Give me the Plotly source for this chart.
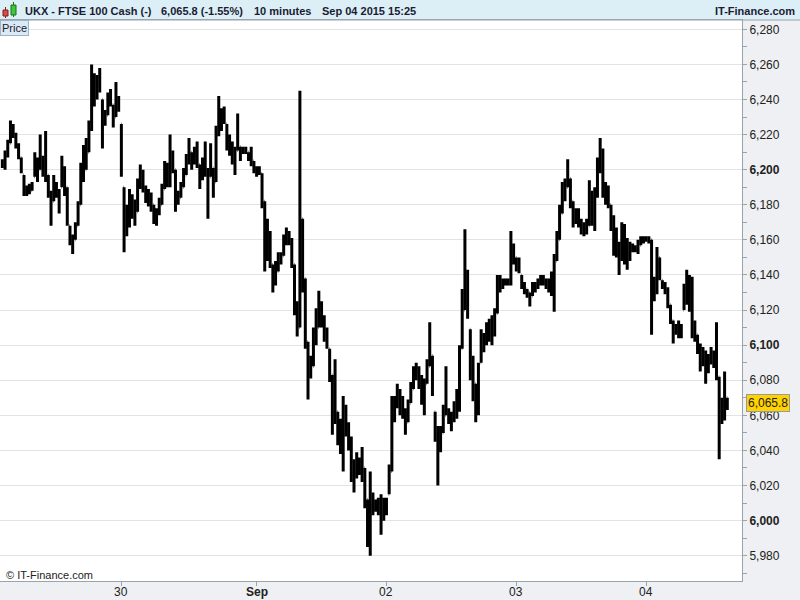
import numpy as np
import pandas as pd
import plotly.graph_objects as go

# ---------------- data ----------------
symbol_text = "UKX - FTSE 100 Cash (-)"
last_text = "6,065.8 (-1.55%)"
interval_text = "10 minutes"
stamp_text = "Sep 04 2015 15:25"
brand_text = "IT-Finance.com"
copyright_text = "© IT-Finance.com"
last_price = 6065.8

fri_start = "2015-08-28 00:00"
week_start = "2015-08-30 23:00"
bar_freq = "30min"
weekend_break = ["2015-08-28 22:00", "2015-08-30 23:00"]

fri_high = [6206, 6211, 6217, 6228, 6226, 6221, 6215, 6207, 6197, 6191,
            6192, 6193, 6210, 6207, 6220, 6208, 6222, 6197, 6188, 6197,
            6193, 6189, 6208, 6202, 6190, 6168, 6163, 6170, 6182, 6204,
            6214, 6218, 6228, 6260, 6255, 6254, 6258, 6240, 6234, 6244,
            6246, 6237, 6250, 6242]
fri_low = [6201, 6200, 6207, 6215, 6218, 6212, 6206, 6198, 6185, 6185,
           6186, 6188, 6196, 6193, 6200, 6196, 6193, 6184, 6168, 6182,
           6184, 6175, 6190, 6185, 6168, 6157, 6152, 6160, 6168, 6180,
           6193, 6200, 6210, 6222, 6236, 6240, 6244, 6212, 6225, 6231,
           6236, 6224, 6230, 6233]
fri_close = [6204, 6209, 6214, 6222, 6220, 6214, 6208, 6201, 6188, 6189,
             6188, 6191, 6202, 6199, 6206, 6200, 6198, 6187, 6180, 6190,
             6187, 6180, 6200, 6192, 6172, 6160, 6156, 6166, 6178, 6196,
             6200, 6210, 6225, 6250, 6242, 6250, 6247, 6228, 6230, 6240,
             6240, 6228, 6240, 6236]

wk_high = [6226, 6190, 6180, 6189, 6186, 6183, 6195, 6203, 6200, 6191,
           6189, 6187, 6180, 6178, 6184, 6192, 6205, 6204, 6220, 6211,
           6200, 6188, 6193, 6201, 6209, 6218, 6210, 6213, 6216, 6203,
           6207, 6216, 6201, 6215, 6201, 6225, 6242, 6235, 6236, 6226,
           6220, 6216, 6213, 6232, 6213, 6213, 6213, 6210, 6213, 6205,
           6202, 6202, 6198, 6182, 6172, 6165, 6146, 6148, 6153, 6153,
           6163, 6167, 6165, 6161, 6146, 6125, 6245, 6172, 6138, 6102,
           6094, 6110, 6121, 6131, 6125, 6117, 6110, 6098, 6083, 6092,
           6062, 6058, 6071, 6066, 6056, 6048, 6035, 6039, 6036, 6042,
           6030, 6012, 6028, 6016, 6012, 6013, 6015, 6013, 6013, 6032,
           6071, 6071, 6078, 6075, 6071, 6064, 6069, 6079, 6088, 6090,
           6088, 6083, 6081, 6092, 6113, 6094, 6062, 6054, 6054, 6066,
           6088, 6064, 6062, 6068, 6075, 6100, 6132, 6166, 6143, 6109,
           6094, 6078, 6090, 6109, 6107, 6113, 6115, 6117, 6121, 6140,
           6140, 6138, 6138, 6138, 6165, 6158, 6150, 6150, 6140, 6136,
           6132, 6130, 6136, 6136, 6138, 6140, 6140, 6138, 6138, 6142,
           6152, 6165, 6180, 6193, 6195, 6206, 6195, 6182, 6178, 6178,
           6172, 6170, 6172, 6194, 6188, 6190, 6207, 6218, 6212, 6193,
           6191, 6180, 6174, 6167, 6159, 6170, 6169, 6161, 6159, 6158,
           6157, 6160, 6162, 6162, 6162, 6162, 6160, 6139, 6156, 6150,
           6137, 6136, 6133, 6123, 6114, 6112, 6114, 6112, 6135, 6143,
           6140, 6139, 6114, 6106, 6101, 6099, 6097, 6095, 6099, 6097,
           6113, 6082, 6070, 6085, 6070]
wk_low = [6196, 6153, 6162, 6167, 6172, 6168, 6176, 6189, 6187, 6181,
          6179, 6176, 6169, 6168, 6174, 6180, 6189, 6190, 6190, 6198,
          6176, 6180, 6184, 6190, 6197, 6203, 6200, 6203, 6201, 6189,
          6194, 6196, 6172, 6196, 6184, 6193, 6219, 6222, 6226, 6211,
          6208, 6203, 6197, 6211, 6205, 6209, 6209, 6205, 6202, 6198,
          6196, 6197, 6178, 6142, 6148, 6144, 6130, 6134, 6142, 6146,
          6151, 6157, 6157, 6144, 6117, 6105, 6110, 6130, 6098, 6069,
          6081, 6088, 6100, 6110, 6110, 6102, 6098, 6079, 6049, 6055,
          6043, 6038, 6028, 6048, 6040, 6022, 6016, 6024, 6026, 6022,
          6007, 5985, 5980, 6003, 6005, 6003, 5992, 6000, 6003, 6015,
          6028, 6056, 6064, 6060, 6058, 6049, 6056, 6067, 6075, 6080,
          6075, 6066, 6060, 6078, 6088, 6071, 6045, 6020, 6039, 6050,
          6060, 6055, 6051, 6056, 6058, 6062, 6098, 6120, 6115, 6080,
          6068, 6056, 6060, 6090, 6096, 6100, 6102, 6100, 6105, 6118,
          6130, 6132, 6134, 6134, 6134, 6146, 6142, 6141, 6132, 6129,
          6127, 6122, 6128, 6130, 6132, 6134, 6134, 6132, 6130, 6128,
          6119, 6148, 6160, 6175, 6182, 6190, 6178, 6167, 6169, 6167,
          6163, 6162, 6163, 6168, 6168, 6165, 6184, 6198, 6184, 6180,
          6178, 6165, 6151, 6150, 6140, 6148, 6146, 6143, 6148, 6153,
          6153, 6152, 6157, 6158, 6159, 6158, 6106, 6125, 6129, 6137,
          6132, 6129, 6121, 6112, 6101, 6106, 6104, 6104, 6120, 6123,
          6119, 6104, 6102, 6095, 6085, 6088, 6078, 6084, 6089, 6087,
          6080, 6035, 6055, 6057, 6063]
wk_close = [6200, 6165, 6170, 6180, 6178, 6176, 6190, 6195, 6190, 6184,
            6182, 6180, 6172, 6175, 6180, 6188, 6198, 6194, 6205, 6200,
            6182, 6184, 6190, 6197, 6205, 6210, 6205, 6208, 6205, 6195,
            6200, 6200, 6185, 6205, 6192, 6220, 6230, 6230, 6230, 6218,
            6212, 6210, 6205, 6218, 6210, 6211, 6211, 6208, 6208, 6200,
            6199, 6199, 6182, 6155, 6160, 6150, 6136, 6142, 6148, 6150,
            6160, 6162, 6160, 6148, 6122, 6110, 6180, 6140, 6105, 6085,
            6088, 6102, 6110, 6118, 6116, 6108, 6100, 6085, 6060, 6065,
            6050, 6045, 6060, 6052, 6045, 6030, 6025, 6030, 6030, 6035,
            6012, 6000, 6010, 6008, 6008, 6008, 6005, 6008, 6010, 6028,
            6060, 6065, 6070, 6068, 6062, 6055, 6065, 6075, 6082, 6085,
            6080, 6072, 6070, 6085, 6100, 6078, 6050, 6045, 6048, 6060,
            6062, 6058, 6058, 6064, 6068, 6095, 6120, 6135, 6120, 6090,
            6078, 6065, 6085, 6100, 6102, 6106, 6110, 6108, 6115, 6135,
            6135, 6135, 6136, 6136, 6155, 6150, 6146, 6145, 6135, 6132,
            6130, 6126, 6133, 6133, 6135, 6137, 6136, 6135, 6134, 6132,
            6148, 6160, 6175, 6188, 6190, 6198, 6182, 6172, 6174, 6170,
            6166, 6166, 6168, 6185, 6175, 6185, 6200, 6210, 6188, 6185,
            6182, 6170, 6160, 6155, 6150, 6160, 6155, 6150, 6155, 6155,
            6155, 6157, 6160, 6160, 6161, 6160, 6132, 6132, 6150, 6140,
            6134, 6132, 6124, 6115, 6108, 6108, 6108, 6110, 6128, 6135,
            6125, 6110, 6106, 6098, 6092, 6094, 6090, 6090, 6094, 6092,
            6085, 6060, 6065, 6070, 6065.8]
first_open = 6203

day_ticks = ["2015-08-30 23:00", "2015-09-01 00:00", "2015-09-02 00:00",
             "2015-09-03 00:00", "2015-09-04 00:00"]
day_labels = ["30", "<b>Sep</b>", "02", "03", "04"]
price_ticks = [5980, 6000, 6020, 6040, 6060, 6080, 6100, 6120, 6140,
               6160, 6180, 6200, 6220, 6240, 6260, 6280]
minor_ticks = [5970, 5990, 6010, 6030, 6050, 6070, 6090, 6110, 6130, 6150,
               6170, 6190, 6210, 6230, 6250, 6270]

# ---------------- build ----------------
t_fri = pd.date_range(fri_start, periods=len(fri_high), freq=bar_freq)
t_wk = pd.date_range(week_start, periods=len(wk_high), freq=bar_freq)
x = list(t_fri) + list(t_wk)
high = np.array(fri_high + wk_high, dtype=float)
low = np.array(fri_low + wk_low, dtype=float)
close = np.array(fri_close + wk_close, dtype=float)
open_ = np.clip(np.r_[[first_open], close[:-1]], low, high)

price_labels = [(f"<b>{v:,}</b>" if v % 100 == 0 else f"{v:,}") for v in price_ticks]

W, H = 800, 600
ML, MR, MT, MB = 0, 58, 20, 19
PW, PH = W - ML - MR, H - MT - MB


def px(xp):
    return (xp - ML) / PW


def py(yp):
    return (H - MB - yp) / PH


fig = go.Figure()
fig.add_trace(go.Ohlc(
    x=x, open=open_, high=high, low=low, close=close,
    increasing=dict(line=dict(color="black", width=3)),
    decreasing=dict(line=dict(color="black", width=3)),
    tickwidth=0.15, hoverinfo="skip", showlegend=False,
))

axis_line = "#9aa4ad"
font_fam = "Liberation Sans, Arial, sans-serif"

fig.update_layout(
    width=W, height=H,
    margin=dict(l=ML, r=MR, t=MT, b=MB, autoexpand=False),
    paper_bgcolor="#eef0f3", plot_bgcolor="white",
    showlegend=False,
    font=dict(family=font_fam, size=12, color="#222222"),
    xaxis=dict(
        type="date",
        range=["2015-08-27 23:34", "2015-09-04 17:43"],
        rangebreaks=[dict(bounds=weekend_break)],
        rangeslider=dict(visible=False),
        tickmode="array", tickvals=day_ticks, showticklabels=False,
        ticks="outside", ticklen=4, tickcolor=axis_line,
        showgrid=False, zeroline=False,
        showline=True, linecolor=axis_line, mirror=True,
    ),
    yaxis=dict(
        side="right",
        range=[5965.6, 6285.3],
        tickmode="array", tickvals=price_ticks, ticktext=price_labels,
        ticks="outside", ticklen=4, tickcolor=axis_line,
        gridcolor="#e3e3e3", gridwidth=1, zeroline=False,
        showline=True, linecolor=axis_line, mirror=True,
        tickfont=dict(family=font_fam, size=12, color="#222222"),
        minor=dict(tickmode="array", tickvals=minor_ticks, ticks="outside",
                   ticklen=4, tickcolor=axis_line, showgrid=False),
    ),
)

shapes = [
    # header band
    dict(type="rect", xref="paper", yref="paper", x0=px(0), x1=px(W),
         y0=py(MT), y1=py(0), fillcolor="#dceff6", line=dict(width=0), layer="below"),
    dict(type="line", xref="paper", yref="paper", x0=px(0), x1=px(W),
         y0=py(MT), y1=py(MT), line=dict(color=axis_line, width=1)),
    # icon: red candle
    dict(type="line", xref="paper", yref="paper", x0=px(5.5), x1=px(5.5),
         y0=py(18), y1=py(7), line=dict(color="#7a2020", width=1)),
    dict(type="rect", xref="paper", yref="paper", x0=px(3), x1=px(8),
         y0=py(16), y1=py(10), fillcolor="#e04848", line=dict(color="#7a2020", width=1)),
    # icon: green candle
    dict(type="line", xref="paper", yref="paper", x0=px(13.5), x1=px(13.5),
         y0=py(17), y1=py(2), line=dict(color="#1f6b1f", width=1)),
    dict(type="rect", xref="paper", yref="paper", x0=px(11), x1=px(16),
         y0=py(15), y1=py(5), fillcolor="#3cc83c", line=dict(color="#1f6b1f", width=1)),
]
fig.update_layout(shapes=shapes)

hdr_font = dict(family=font_fam, size=11, color="#1b1b33")
annos = []
for txt, xpx in [(symbol_text, 23), (last_text, 159), (interval_text, 252), (stamp_text, 320)]:
    annos.append(dict(text=f"<b>{txt}</b>", xref="paper", yref="paper", x=px(xpx), y=py(10.5),
                      xanchor="left", yanchor="middle", showarrow=False, font=hdr_font))
annos.append(dict(text=f"<b>{brand_text}</b>", xref="paper", yref="paper", x=px(797), y=py(10.5),
                  xanchor="right", yanchor="middle", showarrow=False, font=hdr_font))
annos.append(dict(text="Price", xref="paper", yref="paper", x=0, y=1, xanchor="left", yanchor="top",
                  showarrow=False, bgcolor="#dbe9f4", bordercolor="#9db4c6", borderwidth=1, borderpad=1,
                  font=dict(family=font_fam, size=11, color="#1b1b33")))
annos.append(dict(text=copyright_text, xref="paper", yref="paper", x=px(4), y=py(575),
                  xanchor="left", yanchor="middle", showarrow=False,
                  font=dict(family=font_fam, size=11, color="#222222")))
annos.append(dict(text=f"{last_price:,.1f}", xref="paper", yref="y", x=1, y=last_price, xshift=4, yshift=2,
                  xanchor="left", yanchor="middle", showarrow=False, bgcolor="#ffd200",
                  bordercolor="#9a9a9a", borderwidth=1, borderpad=1,
                  font=dict(family=font_fam, size=12, color="#222222")))
# day labels under the time axis
for tv, tl in zip(day_ticks, day_labels):
    annos.append(dict(text=tl, xref="x", yref="paper", x=tv, y=py(591.5),
                      xanchor="center", yanchor="middle", showarrow=False,
                      font=dict(family=font_fam, size=12, color="#222222")))
fig.update_layout(annotations=annos)

fig.write_html("out.html", config={"displayModeBar": False},
               post_script="document.body.style.margin='0px';")
